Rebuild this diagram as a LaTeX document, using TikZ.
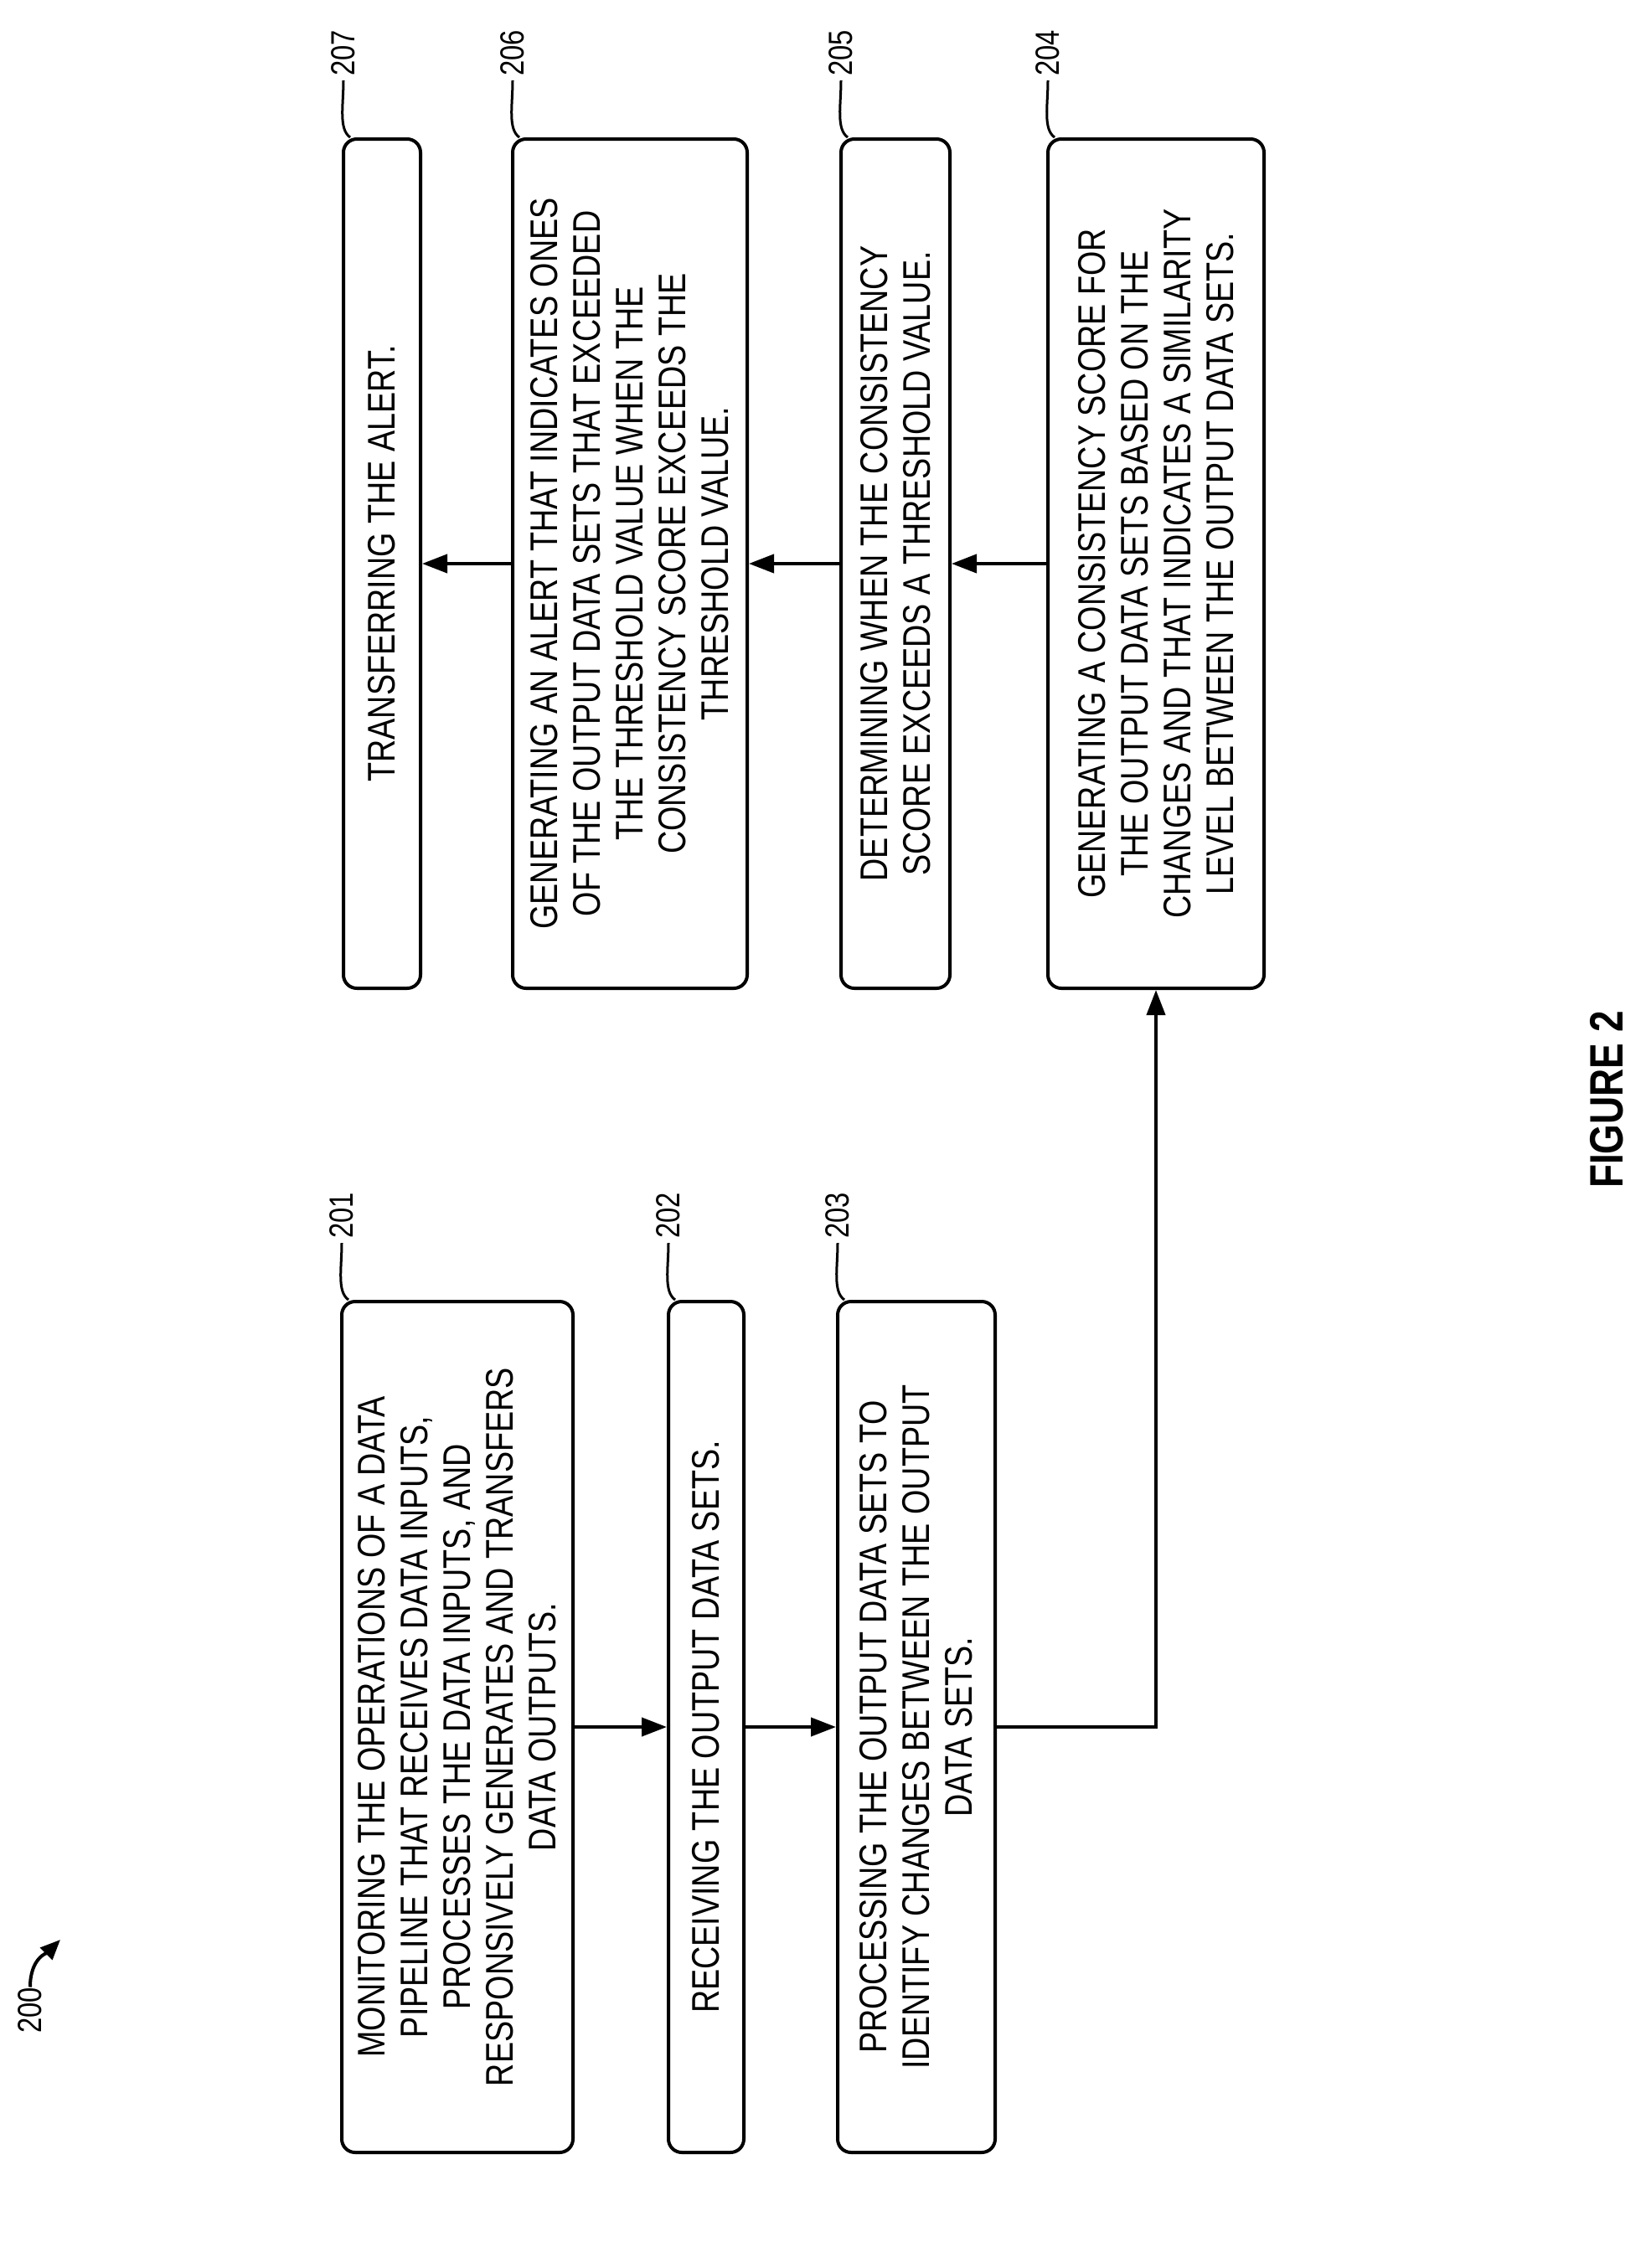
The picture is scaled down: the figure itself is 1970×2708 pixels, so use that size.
\documentclass[tikz,border=0pt]{standalone}
\usepackage{fontspec}
\setmainfont{Liberation Sans}[FakeStretch=0.82]
\usetikzlibrary{arrows.meta}

\tikzset{
  stepbox/.style={draw, line width=2pt, rounded corners=8pt, rotate=90, align=center,
    inner sep=0pt, font=\fontsize{23}{25.5}\selectfont},
  flow/.style={line width=2pt, -{Triangle[length=15pt,width=11pt]}},
  tick/.style={line width=1.5pt},
  ref/.style={rotate=90, anchor=west, inner sep=2pt, font=\fontsize{20}{22}\selectfont}
}

\begin{document}
\begin{tikzpicture}[x=0.5pt, y=-0.5pt]
\useasboundingbox (0,0) rectangle (1970,2708);

% left column
\node[stepbox, minimum width=508pt, minimum height=138pt] (b201) at (546,2062)
  {MONITORING THE OPERATIONS OF A DATA\\PIPELINE THAT RECEIVES DATA INPUTS,\\PROCESSES THE DATA INPUTS, AND\\RESPONSIVELY GENERATES AND TRANSFERS\\DATA OUTPUTS.};
\node[stepbox, minimum width=508pt, minimum height=45pt] (b202) at (843,2062)
  {RECEIVING THE OUTPUT DATA SETS.};
\node[stepbox, minimum width=508pt, minimum height=94pt] (b203) at (1094,2062)
  {PROCESSING THE OUTPUT DATA SETS TO\\IDENTIFY CHANGES BETWEEN THE OUTPUT\\DATA SETS.};

% right column
\node[stepbox, minimum width=507pt, minimum height=129pt] (b204) at (1380,673)
  {GENERATING A CONSISTENCY SCORE FOR\\THE OUTPUT DATA SETS BASED ON THE\\CHANGES AND THAT INDICATES A SIMILARITY\\LEVEL BETWEEN THE OUTPUT DATA SETS.};
\node[stepbox, minimum width=507pt, minimum height=65pt] (b205) at (1069,673)
  {DETERMINING WHEN THE CONSISTENCY\\SCORE EXCEEDS A THRESHOLD VALUE.};
\node[stepbox, minimum width=507pt, minimum height=140pt] (b206) at (752,673)
  {GENERATING AN ALERT THAT INDICATES ONES\\OF THE OUTPUT DATA SETS THAT EXCEEDED\\THE THRESHOLD VALUE WHEN THE\\CONSISTENCY SCORE EXCEEDS THE\\THRESHOLD VALUE.};
\node[stepbox, minimum width=507pt, minimum height=46pt] (b207) at (456,673)
  {TRANSFERRING THE ALERT.};

% connectors
\draw[flow] (b201.south) -- (b202.north);
\draw[flow] (b202.south) -- (b203.north);
\draw[flow] (b203.south) -| (b204.west);
\draw[flow] (b204.north) -- (b205.south);
\draw[flow] (b205.north) -- (b206.south);
\draw[flow] (b206.north) -- (b207.south);

% reference numerals
\foreach \b/\n in {b201/201, b202/202, b203/203, b204/204, b205/205, b206/206, b207/207}
  \draw[tick] ([xshift=5pt]\b.north east) .. controls +(-14,-10) and +(0,30) .. +(-8,-68)
    node[ref] {\n};

\node[rotate=90, anchor=west, inner sep=0pt, font=\fontsize{20}{22}\selectfont] (fig) at (36,2428) {200};
\coordinate (figtip) at (72,2316);
\draw[line width=2pt, -{Triangle[length=12pt,width=10pt]}] (fig.east) .. controls +(0,-35) and +(-15,15) .. (figtip);

\node[rotate=90, font=\bfseries\fontsize{28}{30}\selectfont] (caption) at (1918,1313) {FIGURE 2};
\end{tikzpicture}
\end{document}
